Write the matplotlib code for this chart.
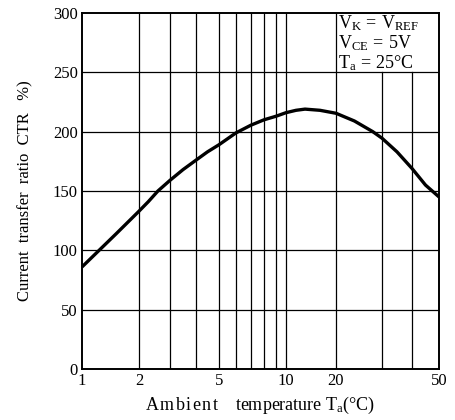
import numpy as np
import matplotlib
matplotlib.use("Agg")
import matplotlib.pyplot as plt

plt.rcParams['font.family'] = ['Liberation Serif', 'DejaVu Sans']
plt.rcParams['mathtext.fontset'] = 'custom'
plt.rcParams['mathtext.rm'] = 'Liberation Serif'
plt.rcParams['mathtext.it'] = 'Liberation Serif'

# curve
temp = [1, 1.3, 1.6, 2, 2.3, 2.61, 3, 3.5, 4, 4.5, 5, 6, 7, 8, 9, 10, 12,
        13.8, 16.8, 20, 24, 28, 30, 35, 40, 45, 50]
ctr = [86, 100, 114, 133, 141, 150, 159, 168, 176, 183, 189, 199, 205.5, 210,
       213, 216, 218, 219, 218, 215.5, 209, 200, 194.5, 183, 169, 155, 145]

grid_t = [1, 2, 3, 4, 5, 6, 7, 8, 9, 10, 20, 30, 40, 50]
xtick_vals = [1, 2, 5, 10, 20, 50]
ytick_vals = [0, 50, 100, 150, 200, 250, 300]

# the printed axis is not a true log axis, map it piecewise
axis_pos = [0, 57, 88, 114, 137, 154, 169, 182, 194, 204, 254, 300, 330, 357]

def fwd(t):
    return np.interp(t, grid_t, axis_pos)

def inv(p):
    return np.interp(p, axis_pos, grid_t)

fig = plt.figure(figsize=(4.55, 4.2), dpi=100)
ax = fig.add_axes([82/455, 51/420, 357/455, 356/420])
ax.set_xscale('function', functions=(fwd, inv))
ax.set_xlim(1, 50)
ax.set_ylim(0, 300)

for t in grid_t[1:-1]:
    top = 250/300 if t in (30, 40) else 1
    ax.axvline(t, ymax=top, color='black', lw=0.9, zorder=1)
for v in ytick_vals[1:-1]:
    ax.axhline(v, color='black', lw=0.9, zorder=1)

ax.plot(temp, ctr, color='black', lw=2.4, solid_capstyle='butt', zorder=3)

ax.set_xticks(xtick_vals)
ax.set_xticklabels([str(v) for v in xtick_vals])
ax.set_yticks(ytick_vals)
ax.set_yticklabels([str(v) for v in ytick_vals])
ax.xaxis.set_minor_locator(matplotlib.ticker.NullLocator())
ax.tick_params(length=0, labelsize=12, pad=3)
for s in ax.spines.values():
    s.set_linewidth(1.4)

ax.text(20.5, 300, r'$\mathrm{V_K\,=\,V_{REF}}$', fontsize=13, va='top', ha='left')
ax.text(20.5, 283, r'$\mathrm{V_{CE}\,=\,5V}$', fontsize=13, va='top', ha='left')
ax.text(20.5, 266, r'$\mathrm{T_a\,=\,25}$°C', fontsize=13, va='top', ha='left')

ax.set_ylabel('Current  transfer  ratio  CTR   %)', fontsize=12, labelpad=14)
ax.set_xlabel('A\u200am\u200ab\u200ai\u200ae\u200an\u200at    temperature T$_\\mathrm{a}$(°C)',
              fontsize=13, labelpad=4)

fig.savefig('out.png', dpi=100)
